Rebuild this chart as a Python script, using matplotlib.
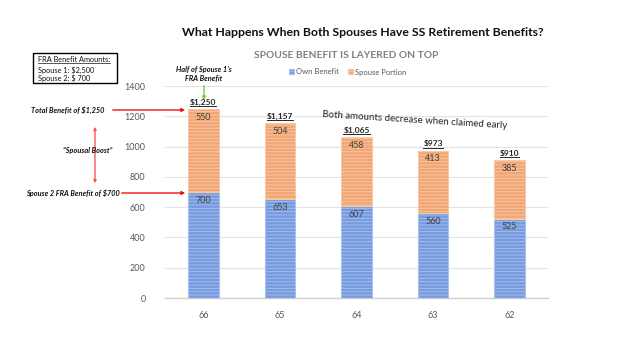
import matplotlib
matplotlib.use("Agg")
import matplotlib.pyplot as plt
from matplotlib.patches import Rectangle, FancyArrowPatch
from matplotlib.lines import Line2D

ages = ["66", "65", "64", "63", "62"]
own_benefit = [700, 653, 607, 560, 525]
spouse_portion = [550, 504, 458, 413, 385]
totals = ["$1,250", "$1,157", "$1,065", "$973", "$910"]
yticks = [0, 200, 400, 600, 800, 1000, 1200, 1400]

plt.rcParams['font.family'] = ['Lato', 'DejaVu Sans']
plt.rcParams['hatch.linewidth'] = 0.6

W, H = 624, 351
fig = plt.figure(figsize=(W / 100, H / 100), dpi=100)
ax = fig.add_axes([165 / W, 1 - 298 / H, (548 - 165) / W, (298 - 86) / H])

x = list(range(len(ages)))
blue, blue_h = "#769bdf", "#a9c1ee"
orange, orange_h = "#f2a674", "#f8c9a8"
bw = 0.4
ax.bar(x, own_benefit, width=bw, color=blue, edgecolor=blue_h, hatch="-----", linewidth=0.8, zorder=3, label="Own Benefit")
ax.bar(x, spouse_portion, width=bw, bottom=own_benefit, color=orange, edgecolor=orange_h, hatch="-----", linewidth=0.8, zorder=3, label="Spouse Portion")

for i in x:
    ax.text(i, own_benefit[i] - 25, str(own_benefit[i]), ha="center", va="top", fontsize=6.5, color="#404040", zorder=4)
    top = own_benefit[i] + spouse_portion[i]
    ax.text(i, top - 25, str(spouse_portion[i]), ha="center", va="top", fontsize=6.5, color="#404040", zorder=4)

total_texts = []
for i in x:
    top = own_benefit[i] + spouse_portion[i]
    t = ax.text(i, top + 28, totals[i], ha="center", va="baseline", fontsize=6, fontweight="bold", color="#262626", zorder=4)
    total_texts.append(t)

ax.set_xlim(-0.5, len(ages) - 0.5)
ax.set_ylim(0, 1400)
ax.set_yticks(yticks)
ax.set_xticks(x)
ax.set_xticklabels(ages)
ax.tick_params(axis="both", length=0, labelsize=6.5, labelcolor="#595959")
ax.tick_params(axis="x", pad=9)
ax.tick_params(axis="y", pad=14)
ax.grid(axis="y", color="#e3e3e3", linewidth=0.8, zorder=0)
for s in ["top", "right", "left"]:
    ax.spines[s].set_visible(False)
ax.spines["bottom"].set_color("#d0d0d0")
ax.spines["bottom"].set_linewidth(1.0)

# titles
fig.text(363 / W, 1 - 32 / H, "What Happens When Both Spouses Have SS Retirement Benefits?", ha="center", va="center",
         fontsize=8.8, fontweight="bold", color="#111111")
fig.text(346 / W, 1 - 55 / H, "SPOUSE BENEFIT IS LAYERED ON TOP", ha="center", va="center",
         fontsize=7.4, fontweight="bold", color="#808080")
leg = fig.legend(loc="center", bbox_to_anchor=(348 / W, 1 - 72 / H), ncol=2, frameon=False, fontsize=5.5,
                 handlelength=0.6, handleheight=0.6, handletextpad=0.3, columnspacing=1.2, labelcolor="#595959")

# info box
fig.patches.append(Rectangle((33 / W, 1 - 83 / H), (117 - 33) / W, (83 - 53) / H, transform=fig.transFigure,
                             fill=False, edgecolor="black", linewidth=1.0))
box_t = fig.text(38 / W, 1 - 62 / H, "FRA Benefit Amounts:", ha="left", va="baseline", fontsize=5.3, color="#111111")
fig.text(38 / W, 1 - 70 / H, "Spouse 1: $2,500", ha="left", va="center", fontsize=5.3, color="#111111")
fig.text(38 / W, 1 - 78.5 / H, "Spouse 2: $ 700", ha="left", va="center", fontsize=5.3, color="#111111")

# annotations
fig.text(204 / W, 1 - 74 / H, "Half of Spouse 1\u2019s\nFRA Benefit", ha="center", va="center", fontsize=5.3,
         fontweight="bold", style="italic", color="#111111", linespacing=1.3)
fig.patches.append(FancyArrowPatch((204 / W, 1 - 83 / H), (204 / W, 1 - 103 / H), transform=fig.transFigure,
                                   arrowstyle="-|>", mutation_scale=5, color="#7ac943", linewidth=1.0))

fig.text(68 / W, 1 - 110 / H, "Total Benefit of $1,250", ha="center", va="center", fontsize=5.3,
         fontweight="bold", style="italic", color="#111111")
fig.patches.append(FancyArrowPatch((110 / W, 1 - 110 / H), (188 / W, 1 - 110 / H), transform=fig.transFigure,
                                   arrowstyle="-|>", mutation_scale=5, color="#ee1111", linewidth=1.0))

fig.text(88 / W, 1 - 150 / H, "\u201cSpousal Boost\u201d", ha="center", va="center", fontsize=5.3,
         fontweight="bold", style="italic", color="#111111")
fig.patches.append(FancyArrowPatch((95 / W, 1 - 124 / H), (95 / W, 1 - 186 / H), transform=fig.transFigure,
                                   arrowstyle="<|-|>", mutation_scale=4, color="#ff5555", linewidth=1.0))

fig.text(73 / W, 1 - 193 / H, "Spouse 2 FRA Benefit of $700", ha="center", va="center", fontsize=5.3,
         fontweight="bold", style="italic", color="#111111")
fig.patches.append(FancyArrowPatch((119 / W, 1 - 193 / H), (188 / W, 1 - 193 / H), transform=fig.transFigure,
                                   arrowstyle="-|>", mutation_scale=5, color="#ee1111", linewidth=1.0))

fig.text(415 / W, 1 - 120 / H, "Both amounts decrease when claimed early", ha="center", va="center", fontsize=7,
         rotation=-3.5, color="#222222")

# underlines just below the text baseline
fig.canvas.draw()
r = fig.canvas.get_renderer()
for t, col, lw in [(tt, "#262626", 0.7) for tt in total_texts] + [(box_t, "#111111", 0.5)]:
    bb = t.get_window_extent(renderer=r)
    base_y = t.get_transform().transform(t.get_position())[1]
    yy = base_y - 1.3
    fig.lines.append(Line2D([bb.x0 / W, bb.x1 / W], [yy / H, yy / H], transform=fig.transFigure, color=col, linewidth=lw))

fig.savefig("out.png", dpi=100)
